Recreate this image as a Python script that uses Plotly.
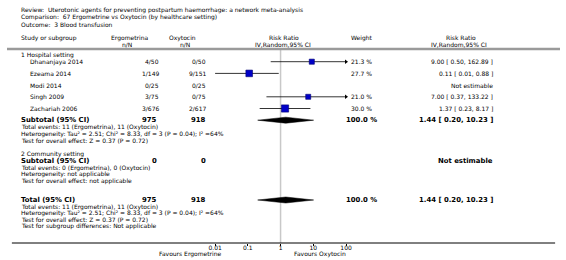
import plotly.graph_objects as go

W, H = 566, 260
FONT = "DejaVu Sans"

# ---------------- data ----------------
studies = ["Dhananjaya 2014", "Ezeama 2014", "Modi 2014", "Singh 2009", "Zachariah 2006"]
ergo_n = ["4/50", "1/149", "0/25", "3/75", "3/676"]
oxy_n = ["0/50", "9/151", "0/25", "0/75", "2/617"]
rr = [9.00, 0.11, None, 7.00, 1.37]
rr_lo = [0.50, 0.01, None, 0.37, 0.23]
rr_hi = [162.89, 0.88, None, 133.22, 8.17]
weights = [21.3, 27.7, None, 21.0, 30.0]
rr_text = ["9.00 [ 0.50, 162.89 ]", "0.11 [ 0.01, 0.88 ]", "Not estimable",
           "7.00 [ 0.37, 133.22 ]", "1.37 [ 0.23, 8.17 ]"]

sub_est, sub_lo, sub_hi = 1.44, 0.20, 10.23
tot_est, tot_lo, tot_hi = 1.44, 0.20, 10.23
sub_ergo_total, sub_oxy_total = "975", "918"
comm_ergo_total, comm_oxy_total = "0", "0"

tick_vals = [0.01, 0.1, 1, 10, 100]
tick_text = ["0.01", "0.1", "1", "10", "100"]
x_min, x_max = 0.01, 100

# ---------------- layout helpers ----------------
PLOT_L, PLOT_R = 213, 347          # pixel span of the log axis
AXIS_Y = 243
ROW0, DROW = 61.7, 11.7
NS = 6.0    # normal text size
SS = 6.0    # study rows size
BS = 6.9    # bold size

fig = go.Figure()

def txt(x, y, s, anchor="left", size=NS, bold=False, color="#000000"):
    if bold:
        s = "<b>" + s + "</b>"
    fig.add_annotation(x=x / W, y=y, xref="paper", yref="y", text=s, showarrow=False,
                       xanchor=anchor, yanchor="middle",
                       font=dict(family=FONT, size=size, color=color), borderpad=0)

# title
txt(13, 10, "Review:  Uterotonic agents for preventing postpartum haemorrhage: a network meta-analysis")
txt(13, 17, "Comparison:  67 Ergometrine vs Oxytocin (by healthcare setting)")
txt(13, 24, "Outcome:  3 Blood transfusion")

# headers
txt(13, 38, "Study or subgroup")
txt(125, 37.5, "Ergometrina", "center")
txt(123, 44, "n/N", "center")
txt(180, 37.5, "Oxytocin", "center")
txt(182, 44, "n/N", "center")
txt(284, 37.5, "Risk Ratio", "center")
txt(282, 44, "IV,Random,95% CI", "center")
txt(363, 37.5, "Weight", "center")
txt(465, 37.5, "Risk Ratio", "center")
txt(463, 44, "IV,Random,95% CI", "center")

# header rule
fig.add_shape(type="line", xref="paper", yref="y", x0=0, x1=1, y0=49, y1=49,
              line=dict(color="#9a9a9a", width=2.5))

# group 1
txt(13, 55, "1 Hospital setting")
rows_y = [ROW0 + i * DROW for i in range(len(studies))]
for i, s in enumerate(studies):
    y = rows_y[i]
    txt(23, y, s, size=SS)
    txt(157, y, ergo_n[i], "right", size=SS)
    txt(205, y, oxy_n[i], "right", size=SS)
    if weights[i] is not None:
        txt(363, y, f"{weights[i]:.1f} %", "center", size=SS)
    txt(498, y, rr_text[i], "right", size=SS)

sub_y = ROW0 + len(studies) * DROW
txt(13, sub_y, "Subtotal (95% CI)", size=BS, bold=True)
txt(155, sub_y, sub_ergo_total, "right", size=BS, bold=True)
txt(205, sub_y, sub_oxy_total, "right", size=BS, bold=True)
txt(363, sub_y, "100.0 %", "center", size=BS, bold=True)
txt(498, sub_y, f"{sub_est:.2f} [ {sub_lo:.2f}, {sub_hi:.2f} ]", "right", size=BS, bold=True)
txt(13, 127, "Total events: 11 (Ergometrina), 11 (Oxytocin)")
txt(13, 133.5, "Heterogeneity: Tau² = 2.51; Chi² = 8.33, df = 3 (P = 0.04); I² =64%")
txt(13, 140, "Test for overall effect: Z = 0.37 (P = 0.72)")

# group 2
txt(13, 154, "2 Community setting")
txt(13, 161, "Subtotal (95% CI)", size=BS, bold=True)
txt(155, 161, comm_ergo_total, "right", size=BS, bold=True)
txt(205, 161, comm_oxy_total, "right", size=BS, bold=True)
txt(498, 161, "Not estimable", "right", size=BS, bold=True)
txt(13, 167.5, "Total events: 0 (Ergometrina), 0 (Oxytocin)")
txt(13, 174, "Heterogeneity: not applicable")
txt(13, 180.5, "Test for overall effect: not applicable")

# total
tot_y = 200
txt(13, tot_y, "Total (95% CI)", size=BS, bold=True)
txt(155, tot_y, sub_ergo_total, "right", size=BS, bold=True)
txt(205, tot_y, sub_oxy_total, "right", size=BS, bold=True)
txt(363, tot_y, "100.0 %", "center", size=BS, bold=True)
txt(498, tot_y, f"{tot_est:.2f} [ {tot_lo:.2f}, {tot_hi:.2f} ]", "right", size=BS, bold=True)
txt(13, 206.5, "Total events: 11 (Ergometrina), 11 (Oxytocin)")
txt(13, 213, "Heterogeneity: Tau² = 2.51; Chi² = 8.33, df = 3 (P = 0.04); I² =64%")
txt(13, 219.5, "Test for overall effect: Z = 0.37 (P = 0.72)")
txt(13, 226, "Test for subgroup differences: Not applicable")

# footer
txt(221, 254, "Favours Ergometrine", "right")
txt(293, 254, "Favours Oxytocin", "left")

# bottom rule (full width)
fig.add_shape(type="line", xref="paper", yref="y", x0=5 / W, x1=561 / W, y0=AXIS_Y, y1=AXIS_Y,
              line=dict(color="#000000", width=1))

# ---------------- plot marks ----------------
# line of no effect
fig.add_trace(go.Scatter(x=[1, 1], y=[50, AXIS_Y], mode="lines",
                         line=dict(color="#c8c8c8", width=1.5), hoverinfo="skip", cliponaxis=False))

for i in range(len(studies)):
    if rr[i] is None:
        continue
    y = rows_y[i]
    lo = max(rr_lo[i], x_min)
    hi = min(rr_hi[i], x_max)
    fig.add_trace(go.Scatter(x=[lo, hi], y=[y, y], mode="lines",
                             line=dict(color="#000000", width=0.8), hoverinfo="skip", cliponaxis=False))
    if rr_hi[i] > x_max:
        fig.add_trace(go.Scatter(x=[x_max], y=[y], mode="markers",
                                 marker=dict(symbol="triangle-right", size=4, color="#000000"),
                                 hoverinfo="skip", cliponaxis=False))
    fig.add_trace(go.Scatter(x=[rr[i]], y=[y], mode="markers",
                             marker=dict(symbol="square", size=weights[i] * 0.24, color="#0000c8",
                                         line=dict(color="#000070", width=0.6)),
                             hoverinfo="skip", cliponaxis=False))

def diamond(est, lo, hi, y, h=3):
    fig.add_trace(go.Scatter(x=[lo, est, hi, est, lo], y=[y, y - h, y, y + h, y],
                             mode="lines", fill="toself", fillcolor="#000000",
                             line=dict(color="#000000", width=0.5), hoverinfo="skip", cliponaxis=False))

diamond(sub_est, sub_lo, sub_hi, sub_y)
diamond(tot_est, tot_lo, tot_hi, tot_y)

fig.update_layout(
    width=W, height=H, margin=dict(l=0, r=0, t=0, b=0),
    paper_bgcolor="white", plot_bgcolor="rgba(0,0,0,0)", showlegend=False,
    xaxis=dict(type="log", range=[-2, 2], domain=[PLOT_L / W, PLOT_R / W],
               anchor="free", position=1 - AXIS_Y / H,
               tickvals=tick_vals, ticktext=tick_text, ticks="outside", ticklen=2,
               ticklabelstandoff=-3,
               tickcolor="#000000", tickwidth=1, showgrid=False, zeroline=False, showline=False,
               tickfont=dict(family=FONT, size=6, color="#000000")),
    yaxis=dict(range=[H, 0], domain=[0, 1], visible=False, showgrid=False, zeroline=False),
)

fig.write_html("out.html", config={"displayModeBar": False, "staticPlot": True},
               post_script="document.body.style.margin='0';document.body.style.padding='0';")
